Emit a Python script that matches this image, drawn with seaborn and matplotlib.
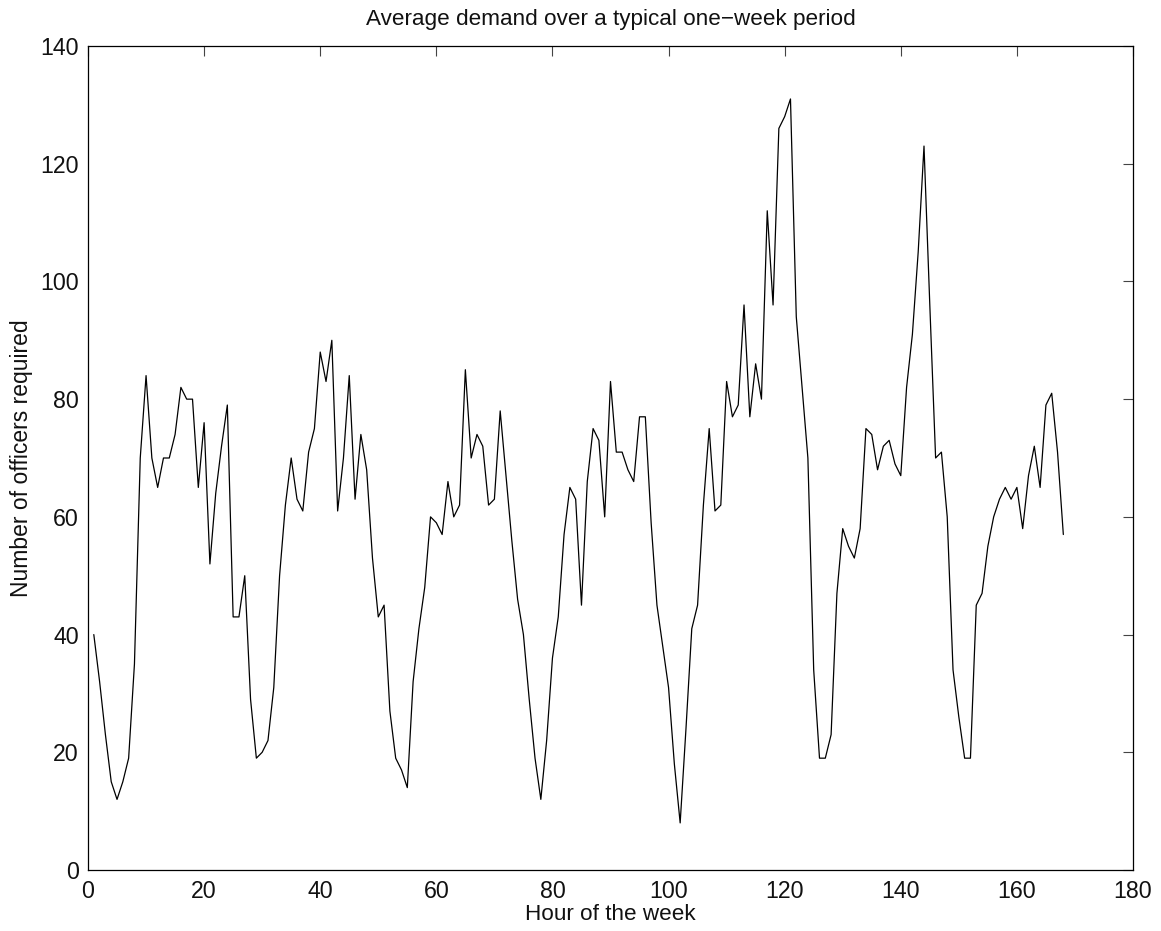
import numpy as np
import pandas as pd
import matplotlib
matplotlib.use("Agg")
import matplotlib.pyplot as plt
import seaborn as sns

hours = list(range(1, 169))
officers = [
    40, 32, 23, 15, 12, 15, 19, 35, 70, 84,
    70, 65, 70, 70, 74, 82, 80, 80, 65, 76,
    52, 64, 72, 79, 43, 43, 50, 29, 19, 20,
    22, 31, 50, 62, 70, 63, 61, 71, 75, 88,
    83, 90, 61, 70, 84, 63, 74, 68, 53, 43,
    45, 27, 19, 17, 14, 32, 41, 48, 60, 59,
    57, 66, 60, 62, 85, 70, 74, 72, 62, 63,
    78, 67, 56, 46, 40, 29, 19, 12, 22, 36,
    43, 57, 65, 63, 45, 66, 75, 73, 60, 83,
    71, 71, 68, 66, 77, 77, 59, 45, 38, 31,
    18, 8, 24, 41, 45, 62, 75, 61, 62, 83,
    77, 79, 96, 77, 86, 80, 112, 96, 126, 128,
    131, 94, 82, 70, 34, 19, 19, 23, 47, 58,
    55, 53, 58, 75, 74, 68, 72, 73, 69, 67,
    82, 91, 105, 123, 96, 70, 71, 60, 34, 26,
    19, 19, 45, 47, 55, 60, 63, 65, 63, 65,
    58, 67, 72, 65, 79, 81, 71, 57,
]

title = "Average demand over a typical one\u2212week period"
xlabel = "Hour of the week"
ylabel = "Number of officers required"
xticks = [0, 20, 40, 60, 80, 100, 120, 140, 160, 180]
yticks = [0, 20, 40, 60, 80, 100, 120, 140]

df = pd.DataFrame({"hour": hours, "officers": officers})

sns.set_style("white")
plt.rcParams["font.family"] = ["Liberation Sans", "DejaVu Sans"]

fig = plt.figure(figsize=(11.61, 9.31), dpi=100)
ax = fig.add_axes([88 / 1161, 1 - 870 / 931, (1133 - 88) / 1161, (870 - 46) / 931])

sns.lineplot(data=df, x="hour", y="officers", ax=ax, color="black", linewidth=0.9)

ax.set_xlim(0, 180)
ax.set_ylim(0, 140)
ax.set_xticks(xticks)
ax.set_yticks(yticks)
ax.tick_params(direction="in", length=7, width=0.8, top=True, right=True,
               labelsize=16.7, color="#444444", labelcolor="#111111")
ax.tick_params(axis="x", pad=7.5)
ax.tick_params(axis="y", pad=6.5)
for s in ax.spines.values():
    s.set_visible(True)
    s.set_color("black")
    s.set_linewidth(0.9)

ax.set_title(title, fontsize=16.2, pad=15, color="#111111")
ax.set_xlabel(xlabel, fontsize=16.2, color="#111111")
ax.set_ylabel(ylabel, fontsize=16.5, color="#111111")
ax.xaxis.set_label_coords(0.5, -0.0413)
ax.yaxis.set_label_coords(-0.0526, 0.5)

fig.savefig("out.png", dpi=100, facecolor="white")
